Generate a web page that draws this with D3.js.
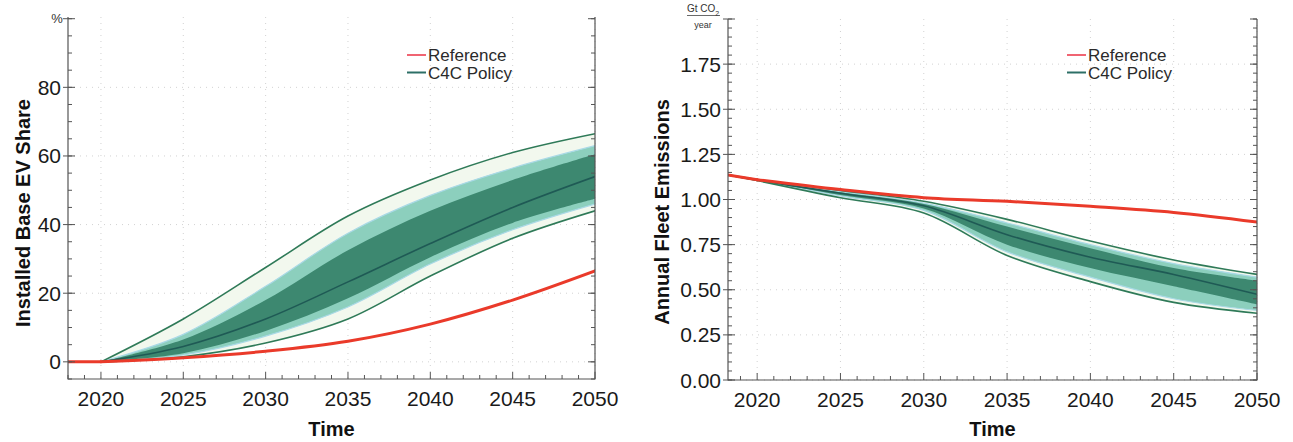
<!DOCTYPE html>
<html>
<head>
<meta charset="utf-8">
<script src="https://cdn.jsdelivr.net/npm/d3@7"></script>
<style>
  body { margin: 0; background: #fff; }
  svg text { font-family: "Liberation Sans", Arial, sans-serif; }
</style>
</head>
<body>
<svg id="chart" width="1293" height="442"></svg>
<script>
'use strict'

// years shared by both panels
var years = [2018, 2020, 2025, 2030, 2035, 2040, 2045, 2050];

// left panel: installed base EV share (%)
var evReference = [0, 0, 1.2, 3.1, 6, 11, 18, 26.5];
var evMedian    = [0, 0, 4.5, 12.5, 23.3, 34.5, 45, 54];
var evMax       = [0, 0, 12.5, 27.5, 42.5, 53, 61, 66.5];
var evMin       = [0, 0, 1.5, 5.5, 12.5, 25, 36, 44];
var evHi90      = [0, 0, 8, 22, 37.5, 48.5, 56.5, 63];
var evLo90      = [0, 0, 2, 7.5, 16, 28.5, 38.5, 46];
var evHi50      = [0, 0, 6.5, 18, 32.5, 44, 53, 60.5];
var evLo50      = [0, 0, 2.5, 9, 18.5, 30.5, 40.5, 47.5];
var evTicks     = [0, 20, 40, 60, 80];

// right panel: annual fleet emissions (Gt CO2 / year)
var emReference = [1.14, 1.11, 1.055, 1.01, 0.99, 0.962, 0.928, 0.875];
var emMedian    = [1.14, 1.107, 1.035, 0.965, 0.805, 0.68, 0.585, 0.475];
var emMax       = [1.14, 1.11, 1.05, 0.99, 0.89, 0.77, 0.665, 0.585];
var emMin       = [1.14, 1.105, 1.01, 0.925, 0.69, 0.545, 0.43, 0.37];
var emHi90      = [1.14, 1.109, 1.045, 0.98, 0.87, 0.75, 0.645, 0.57];
var emLo90      = [1.14, 1.106, 1.02, 0.94, 0.71, 0.57, 0.45, 0.385];
var emHi50      = [1.14, 1.108, 1.04, 0.975, 0.85, 0.73, 0.62, 0.55];
var emLo50      = [1.14, 1.106, 1.025, 0.95, 0.75, 0.62, 0.52, 0.42];
var emTicks     = [0, 0.25, 0.5, 0.75, 1.0, 1.25, 1.5, 1.75];

var xTicks = [2020, 2025, 2030, 2035, 2040, 2045, 2050];
var seriesNames = ["Reference", "C4C Policy"];

var svg = d3.select("#chart");

function drawPanel(cfg, id) {
    var x = d3.scaleLinear().domain(cfg.xDomain).range([cfg.left, cfg.right]),
        y = d3.scaleLinear().domain(cfg.yDomain).range([cfg.bottom, cfg.top]);

    var g = svg.append("g");

    g.append("clipPath").attr("id", "clip" + id)
        .append("rect")
        .attr("x", cfg.left).attr("y", cfg.top)
        .attr("width", cfg.right - cfg.left).attr("height", cfg.bottom - cfg.top);

    // faint dotted grid
    var grid = g.append("g").attr("stroke", "#d2d2d2").attr("stroke-dasharray", "1,5");
    grid.selectAll(".gx").data(xTicks).enter().append("line")
        .attr("x1", d => x(d)).attr("x2", d => x(d))
        .attr("y1", cfg.top).attr("y2", cfg.bottom);
    grid.selectAll(".gy").data(cfg.yTicks).enter().append("line")
        .attr("x1", cfg.left).attr("x2", cfg.right)
        .attr("y1", d => y(d)).attr("y2", d => y(d));

    // the run-in before 2020 is straight, the rest is a smooth spline
    var pts = function (arr) { return years.map(function (yr, i) { return [yr, arr[i]]; }); };
    var band = function (lo, hi) {
        return years.map(function (yr, i) { return { t: yr, lo: lo[i], hi: hi[i] }; });
    };
    var smooth = d3.curveCatmullRom.alpha(0.5);
    var areaOf = function (c) {
        return d3.area().curve(c).x(d => x(d.t)).y0(d => y(d.lo)).y1(d => y(d.hi));
    };
    var lineOf = function (c) {
        return d3.line().curve(c).x(d => x(d[0])).y(d => y(d[1]));
    };

    var plot = g.append("g").attr("clip-path", "url(#clip" + id + ")");

    function addArea(lo, hi, attrs) {
        var b = band(lo, hi);
        [[b.slice(0, 2), d3.curveLinear], [b.slice(1), smooth]].forEach(function (part) {
            var p = plot.append("path").attr("d", areaOf(part[1])(part[0]));
            for (var k in attrs) p.attr(k, attrs[k]);
        });
    }
    function addLine(arr, color, width) {
        var p = pts(arr);
        [[p.slice(0, 2), d3.curveLinear], [p.slice(1), smooth]].forEach(function (part) {
            plot.append("path").attr("d", lineOf(part[1])(part[0]))
                .attr("fill", "none").attr("stroke", color).attr("stroke-width", width)
                .attr("stroke-linecap", "round");
        });
    }

    addArea(cfg.min, cfg.max, { fill: "#f2f8ee" });
    addArea(cfg.lo90, cfg.hi90, { fill: "#8ccfbd", stroke: "#a9d9e6", "stroke-width": 1.2 });
    addArea(cfg.lo50, cfg.hi50, { fill: "#3d8870" });
    addLine(cfg.median, "#1f5a55", 1.6);
    addLine(cfg.min, "#2f7a58", 1.6);
    addLine(cfg.max, "#2f7a58", 1.6);
    addLine(cfg.reference, "#ea3a2a", 3);

    // frame: left, bottom, right
    var frame = g.append("g").attr("stroke", "#555").attr("stroke-width", 1.2).attr("fill", "none");
    frame.append("path")
        .attr("d", "M" + cfg.left + "," + cfg.top + "V" + cfg.bottom + "H" + cfg.right + "V" + cfg.top);

    // y ticks, major and minor, on both sides
    var yMinor = d3.range(cfg.yDomain[0], cfg.yDomain[1] + 1e-9, cfg.yMinorStep);
    var yMajor = yMinor.filter(v => Math.abs(v / cfg.yMajorStep - Math.round(v / cfg.yMajorStep)) < 1e-6);
    var tk = g.append("g").attr("stroke", "#555").attr("stroke-width", 1);
    yMinor.forEach(function (v) {
        tk.append("line").attr("x1", cfg.left).attr("x2", cfg.left + 4).attr("y1", y(v)).attr("y2", y(v));
        tk.append("line").attr("x1", cfg.right).attr("x2", cfg.right - 4).attr("y1", y(v)).attr("y2", y(v));
    });
    yMajor.forEach(function (v) {
        tk.append("line").attr("x1", cfg.left - 5).attr("x2", cfg.left + 7).attr("y1", y(v)).attr("y2", y(v));
        tk.append("line").attr("x1", cfg.right).attr("x2", cfg.right - 7).attr("y1", y(v)).attr("y2", y(v));
    });
    d3.range(Math.ceil(cfg.xDomain[0]), cfg.xDomain[1] + 1).forEach(function (yr) {
        var len = yr % 5 === 0 ? 7 : 4;
        tk.append("line").attr("x1", x(yr)).attr("x2", x(yr)).attr("y1", cfg.bottom).attr("y2", cfg.bottom - len);
    });

    // tick labels
    g.selectAll(".xl").data(xTicks).enter().append("text")
        .attr("x", d => x(d)).attr("y", cfg.bottom + 27)
        .attr("text-anchor", "middle").attr("font-size", 21).attr("fill", "#1a1a1a")
        .text(d => d);
    g.selectAll(".yl").data(cfg.yTicks).enter().append("text")
        .attr("x", cfg.left - 7).attr("y", d => y(d) + 7.5)
        .attr("text-anchor", "end").attr("font-size", 21).attr("fill", "#1a1a1a")
        .text(cfg.yFormat);

    // axis titles
    g.append("text").attr("x", (cfg.left + cfg.right) / 2).attr("y", 436)
        .attr("text-anchor", "middle").attr("font-size", 20).attr("font-weight", "bold")
        .attr("fill", "#111").text("Time");
    g.append("text")
        .attr("transform", "translate(" + cfg.titleX + "," + cfg.titleY + ") rotate(-90)")
        .attr("text-anchor", "middle").attr("font-size", 20).attr("font-weight", "bold")
        .attr("fill", "#111").text(cfg.title);

    // legend
    var lg = g.append("g").attr("transform", "translate(" + cfg.legendX + ",55)");
    var legendColors = ["#f06472", "#2c6f66"];
    seriesNames.forEach(function (name, i) {
        lg.append("line").attr("x1", 0).attr("x2", 19).attr("y1", i * 17.5).attr("y2", i * 17.5)
            .attr("stroke", legendColors[i]).attr("stroke-width", 2);
        lg.append("text").attr("x", 21).attr("y", i * 17.5 + 6)
            .attr("font-size", 17).attr("fill", "#2a2a2a").text(name);
    });

    return g;
}

var left = drawPanel({
    xDomain: [2018, 2050], yDomain: [-5, 100.5],
    left: 68, right: 595, top: 17, bottom: 379,
    yTicks: evTicks, yMinorStep: 5, yMajorStep: 20, yFormat: d => d,
    reference: evReference, median: evMedian, min: evMin, max: evMax,
    lo90: evLo90, hi90: evHi90, lo50: evLo50, hi50: evHi50,
    title: "Installed Base EV Share", titleX: 30, titleY: 213, legendX: 407
}, "L");

left.append("text").attr("x", 57).attr("y", 23).attr("text-anchor", "middle")
    .attr("font-size", 13).attr("fill", "#333").text("%");

var right = drawPanel({
    xDomain: [2018.25, 2050], yDomain: [0, 2.0],
    left: 728, right: 1257, top: 19, bottom: 380,
    yTicks: emTicks, yMinorStep: 0.05, yMajorStep: 0.25, yFormat: d => d.toFixed(2),
    reference: emReference, median: emMedian, min: emMin, max: emMax,
    lo90: emLo90, hi90: emHi90, lo50: emLo50, hi50: emHi50,
    title: "Annual Fleet Emissions", titleX: 669, titleY: 212, legendX: 1067
}, "R");

// unit label as a fraction
var unit = right.append("g").attr("transform", "translate(703,0)");
unit.append("text").attr("x", 0).attr("y", 12).attr("text-anchor", "middle")
    .attr("font-size", 10).attr("fill", "#333")
    .html('Gt CO<tspan baseline-shift="sub" font-size="7">2</tspan>');
unit.append("line").attr("x1", -16).attr("x2", 17).attr("y1", 15.5).attr("y2", 15.5)
    .attr("stroke", "#444").attr("stroke-width", 0.8);
unit.append("text").attr("x", 0).attr("y", 28).attr("text-anchor", "middle")
    .attr("font-size", 9).attr("fill", "#333").text("year");
</script>
</body>
</html>
